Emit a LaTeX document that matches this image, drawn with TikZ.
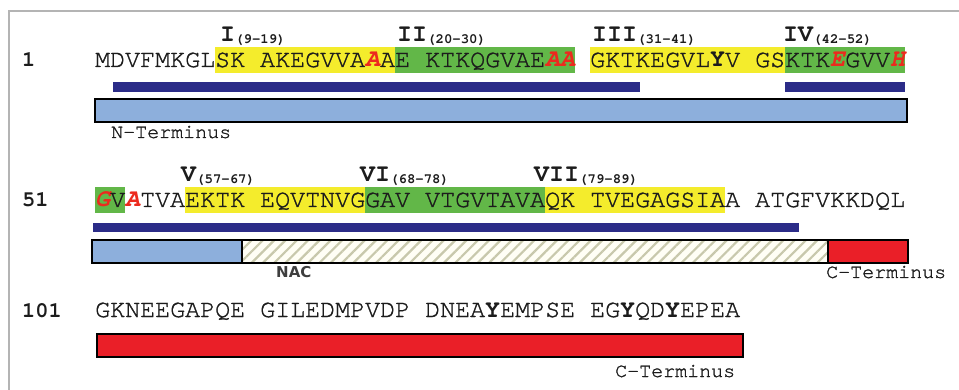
\documentclass[tikz,border=0pt]{standalone}
\usepackage{fontspec}
\usetikzlibrary{patterns.meta}
\newfontfamily\seqfont[UprightFeatures={FakeBold=1.2}]{TeX Gyre Cursor}
\newfontfamily\nacfont{DejaVu Sans}
\definecolor{hlyellow}{HTML}{F4EC2C}
\definecolor{hlgreen}{HTML}{62B748}
\definecolor{mutred}{HTML}{EC2A1E}
\definecolor{barblue}{HTML}{2B2C88}
\definecolor{nblue}{HTML}{8DAFDC}
\definecolor{cred}{HTML}{EA1F28}
\definecolor{hatchc}{HTML}{C8C8AC}
\definecolor{ink}{HTML}{1C1C1C}
\definecolor{framec}{HTML}{B4B4B4}
% mutation sites and tyrosines
\newcommand{\mut}[1]{\textcolor{mutred}{\bfseries\itshape #1}}
\newcommand{\tyr}[1]{\textbf{#1}}
\tikzset{
  seq/.style={anchor=base west, inner sep=0pt, text=ink,
    font=\seqfont\fontsize{25}{25}\selectfont},
  resnum/.style={anchor=base west, inner sep=0pt, text=ink,
    font=\seqfont\bfseries\fontsize{22}{22}\selectfont},
  region/.style={anchor=base west, inner sep=0pt, text=ink},
  domlabel/.style={anchor=base west, inner sep=0pt, text=ink,
    font=\seqfont\fontsize{20}{20}\selectfont},
  yband/.style={fill=hlyellow, draw=none},
  gband/.style={fill=hlgreen, draw=none},
  helix/.style={fill=barblue, draw=none},
  outline/.style={draw=black, line width=1.8pt},
}
% repeat label: roman numeral with residue range
\newcommand{\rep}[2]{{\seqfont\bfseries\fontsize{25}{25}\selectfont #1}%
  \raisebox{-2pt}{\seqfont\bfseries\fontsize{14}{14}\selectfont(#2)}}
\begin{document}
\begin{tikzpicture}[x=1pt, y=-1pt]
\useasboundingbox (0,0) rectangle (959,390);
\fill[white] (0,0) rectangle (959,390);
% frame
\draw[framec, line width=1.6pt] (9,390) -- (9,11) -- (959,11);

% ---- residues 1-50 ----
\fill[yband] (215,47) rectangle (395,73);
\fill[gband] (395,47) rectangle (575,73);
\fill[yband] (590,47) rectangle (785,73);
\fill[gband] (785,47) rectangle (905,73);
\node[resnum] (n1) at (22,67) {1};
\node[seq] (s1) at (95,67) {MDVFMKGLSK AKEGVVA\mut{A}AE KTKQGVAE\mut{A}\mut{A} GKTKEGVL\tyr{Y}V GSKTK\mut{E}GVV\mut{H}};
\node[region] (r1) at (220,42) {\rep{I}{9-19}};
\node[region] (r2) at (397,42) {\rep{II}{20-30}};
\node[region] (r3) at (592,42) {\rep{III}{31-41}};
\node[region] (r4) at (783,42) {\rep{IV}{42-52}};
\fill[helix] (113,82) rectangle (640,92);
\fill[helix] (785,82) rectangle (905,92);
\draw[outline, fill=nblue] (95,99) rectangle (907,122);
\node[domlabel] (nterm) at (111,138) {N-Terminus};

% ---- residues 51-100 ----
\fill[gband] (95,187) rectangle (125,213);
\fill[yband] (185,187) rectangle (365,213);
\fill[gband] (365,187) rectangle (545,213);
\fill[yband] (545,187) rectangle (725,213);
\node[resnum] (n51) at (22,207) {51};
\node[seq] (s2) at (95,207) {\mut{G}V\mut{A}TVAEKTK EQVTNVGGAV VTGVTAVAQK TVEGAGSIAA ATGFVKKDQL};
\node[region] (r5) at (181,182) {\rep{V}{57-67}};
\node[region] (r6) at (360,182) {\rep{VI}{68-78}};
\node[region] (r7) at (534,182) {\rep{VII}{79-89}};
\fill[helix] (93,223) rectangle (799,232);
\fill[nblue] (92,240) rectangle (242,263);
\fill[white!96!yellow] (242,240) rectangle (828,263);
\fill[pattern={Lines[angle=45, distance=8pt, line width=2.2pt]}, pattern color=hatchc]
  (242,240) rectangle (828,263);
\fill[cred] (828,240) rectangle (908,263);
\draw[outline] (92,240) rectangle (908,263);
\draw[outline] (242,240) -- (242,263);
\draw[outline] (828,240) -- (828,263);
\node[region, font=\nacfont\bfseries\fontsize{15}{15}\selectfont, text=ink!85] (nac) at (276,278) {NAC};
\node[domlabel] (cterm1) at (826,278) {C-Terminus};

% ---- residues 101-140 ----
\node[resnum] (n101) at (22,317) {101};
\node[seq] (s3) at (95,317) {GKNEEGAPQE GILEDMPVDP DNEA\tyr{Y}EMPSE EG\tyr{Y}QD\tyr{Y}EPEA};
\draw[outline, fill=cred] (97,334) rectangle (743,357);
\node[domlabel] (cterm2) at (615,377) {C-Terminus};
\end{tikzpicture}
\end{document}
